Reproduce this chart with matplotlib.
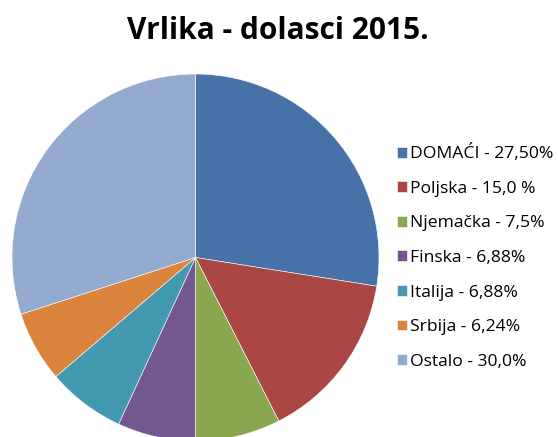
import matplotlib
matplotlib.use("Agg")
import matplotlib.pyplot as plt

labels = ["DOMAĆI - 27,50%", "Poljska - 15,0 %", "Njemačka - 7,5%", "Finska - 6,88%",
          "Italija - 6,88%", "Srbija - 6,24%", "Ostalo - 30,0%"]
values = [27.50, 15.0, 7.5, 6.88, 6.88, 6.24, 30.0]
colors = ["#4672A8", "#AA4644", "#8AA64F", "#735890", "#4299B0", "#DB843D", "#95AACF"]

W, H = 558, 437
fig = plt.figure(figsize=(W / 100, H / 100), dpi=100)

cx, cy, r = 195.5, 257.5, 183.5
ax = fig.add_axes([(cx - r) / W, (H - cy - r) / H, 2 * r / W, 2 * r / H])
wedges, _ = ax.pie(values, colors=colors, startangle=90, counterclock=False, radius=1,
                   wedgeprops=dict(edgecolor="white", linewidth=0.4))
ax.set_xlim(-1, 1)
ax.set_ylim(-1, 1)
ax.set_aspect("equal")
ax.axis("off")

fig.text(278 / W, 1 - 31 / H, "Vrlika - dolasci 2015.", ha="center", va="center",
         fontsize=21.5, fontweight="bold", family="Open Sans")

fs = 12.6
fpx = fs * 100 / 72
leg = fig.legend(wedges, labels, loc="center left", bbox_to_anchor=(397 / W, 1 - 257 / H),
                 frameon=False, prop=dict(family="Open Sans", size=fs),
                 handlelength=10 / fpx, handleheight=10 / fpx, handletextpad=2.5 / fpx,
                 labelspacing=1.06, borderpad=0, borderaxespad=0)

fig.savefig("out.png", dpi=100)
